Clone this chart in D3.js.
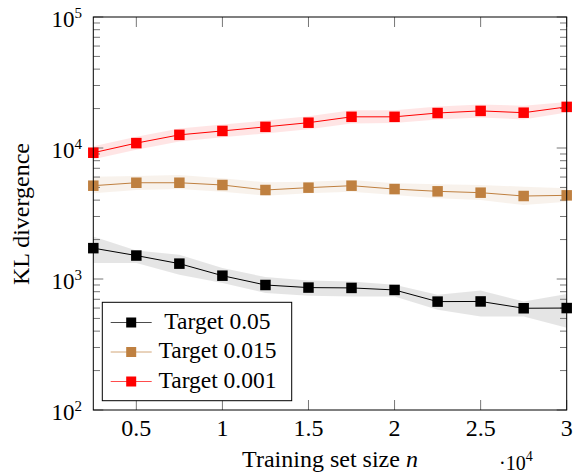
<!DOCTYPE html>
<html>
<head>
<meta charset="UTF-8">
<title>KL divergence</title>
<style>
  body { margin: 0; background: #fff; }
  text { font-family: "Liberation Serif", "Times New Roman", serif; fill: #000; }
</style>
</head>
<body>
<script src="https://cdn.jsdelivr.net/npm/d3@7/dist/d3.min.js"></script>
<script>
// training set sizes, in units of 10^4
var sizes = [0.25, 0.5, 0.75, 1, 1.25, 1.5, 1.75, 2, 2.25, 2.5, 2.75, 3];
var xTicks = [0.5, 1, 1.5, 2, 2.5, 3];

var names = ["Target 0.05", "Target 0.015", "Target 0.001"];
var colors = ["#000000", "#bf8040", "#ff0000"];

var kl005   = [1720, 1510, 1310, 1060, 900, 860, 855, 825, 672, 674, 598, 600];
var kl005Lo = [1325, 1325, 1078, 932, 782, 746, 736, 736, 583, 518, 518, 424];
var kl005Hi = [2114, 1653, 1533, 1213, 1035, 976, 959, 905, 758, 818, 674, 768];

var kl0015   = [5155, 5430, 5430, 5220, 4780, 4980, 5155, 4860, 4670, 4560, 4300, 4350];
var kl0015Lo = [4510, 4777, 4864, 4640, 4325, 4510, 4640, 4377, 4130, 4010, 3670, 3890];
var kl0015Hi = [6040, 6110, 6220, 5870, 5475, 5530, 5700, 5377, 5280, 5220, 5065, 4925];

var kl0001   = [9200, 10900, 12600, 13500, 14500, 15600, 17300, 17300, 18500, 19200, 18600, 20600];
var kl0001Lo = [8200, 9700, 11200, 12100, 12900, 13900, 15400, 15500, 16500, 17100, 16500, 18700];
var kl0001Hi = [10300, 12200, 14100, 15100, 16200, 17500, 19400, 19400, 20700, 21500, 21000, 22400];

var series = [
  { name: names[0], color: colors[0], mid: kl005, lo: kl005Lo, hi: kl005Hi },
  { name: names[1], color: colors[1], mid: kl0015, lo: kl0015Lo, hi: kl0015Hi },
  { name: names[2], color: colors[2], mid: kl0001, lo: kl0001Lo, hi: kl0001Hi }
];

var W = 576, H = 476;
var pLeft = 93.3, pRight = 566.7, pTop = 17, pBottom = 410;

var svg = d3.select('body').append('svg')
  .attr('width', W)
  .attr('height', H);

var x = d3.scaleLinear().domain([0.25, 3]).range([pLeft, pRight]);
var y = d3.scaleLog().domain([100, 100000]).range([pBottom, pTop]);

// bands
series.forEach(function(s) {
  var area = d3.area()
    .x(function(d, i) { return x(sizes[i]); })
    .y0(function(d, i) { return y(s.lo[i]); })
    .y1(function(d, i) { return y(s.hi[i]); });
  svg.append('path')
    .datum(s.mid)
    .attr('d', area)
    .attr('fill', s.color)
    .attr('fill-opacity', 0.1)
    .attr('stroke', 'none');
});

// y ticks (log, major + minor, both sides, inward)
var yTicks = y.ticks();
function isMajor(v) { return Math.abs(Math.log10(v) - Math.round(Math.log10(v))) < 1e-9; }
var tickG = svg.append('g').attr('stroke', '#777').attr('stroke-width', 1);
tickG.selectAll('.yl').data(yTicks).enter().append('line')
  .attr('x1', pLeft).attr('x2', function(d) { return pLeft + (isMajor(d) ? 10 : 6.7); })
  .attr('y1', function(d) { return y(d); }).attr('y2', function(d) { return y(d); });
tickG.selectAll('.yr').data(yTicks).enter().append('line')
  .attr('x1', pRight).attr('x2', function(d) { return pRight - (isMajor(d) ? 10 : 6.7); })
  .attr('y1', function(d) { return y(d); }).attr('y2', function(d) { return y(d); });
tickG.selectAll('.xb').data(xTicks).enter().append('line')
  .attr('x1', function(d) { return x(d); }).attr('x2', function(d) { return x(d); })
  .attr('y1', pBottom).attr('y2', pBottom - 10);
tickG.selectAll('.xt').data(xTicks).enter().append('line')
  .attr('x1', function(d) { return x(d); }).attr('x2', function(d) { return x(d); })
  .attr('y1', pTop).attr('y2', pTop + 10);

// lines and markers
series.forEach(function(s) {
  var line = d3.line()
    .x(function(d, i) { return x(sizes[i]); })
    .y(function(d) { return y(d); });
  svg.append('path')
    .datum(s.mid)
    .attr('d', line)
    .attr('fill', 'none')
    .attr('stroke', s.color)
    .attr('stroke-width', 1);
  svg.selectAll(null).data(s.mid).enter().append('rect')
    .attr('x', function(d, i) { return x(sizes[i]) - 5.25; })
    .attr('y', function(d) { return y(d) - 5.25; })
    .attr('width', 10.5)
    .attr('height', 10.5)
    .attr('fill', s.color);
});

// frame
svg.append('rect')
  .attr('x', pLeft).attr('y', pTop)
  .attr('width', pRight - pLeft).attr('height', pBottom - pTop)
  .attr('fill', 'none').attr('stroke', '#000').attr('stroke-width', 1);

// y tick labels 10^k
var yLabels = svg.selectAll('.ylab').data(yTicks.filter(isMajor)).enter().append('text')
  .attr('x', 82)
  .attr('y', function(d) { return y(d) + 10; })
  .attr('text-anchor', 'end')
  .style('font-size', '23px');
yLabels.append('tspan').text('10');
yLabels.append('tspan')
  .attr('dy', -9)
  .style('font-size', '15px')
  .text(function(d) { return Math.round(Math.log10(d)); });

// x tick labels
svg.selectAll('.xlab').data(xTicks).enter().append('text')
  .attr('x', function(d) { return x(d); })
  .attr('y', 436)
  .attr('text-anchor', 'middle')
  .style('font-size', '24px')
  .text(function(d) { return d; });

// x label and scale factor
var xl = svg.append('text')
  .attr('x', (pLeft + pRight) / 2)
  .attr('y', 467)
  .attr('text-anchor', 'middle')
  .style('font-size', '24px');
xl.append('tspan').text('Training set size ');
xl.append('tspan').style('font-style', 'italic').text('n');

var sf = svg.append('text')
  .attr('x', 499)
  .attr('y', 470)
  .style('font-size', '20px');
sf.append('tspan').text('\u00b710');
sf.append('tspan').attr('dy', -9).style('font-size', '14px').text('4');

// y label
svg.append('text')
  .attr('transform', 'translate(29,214) rotate(-90)')
  .attr('text-anchor', 'middle')
  .style('font-size', '24px')
  .text('KL divergence');

// legend
var lg = svg.append('g');
lg.append('rect')
  .attr('x', 102.3).attr('y', 302.3)
  .attr('width', 189.4).attr('height', 98.4)
  .attr('fill', '#fff').attr('stroke', '#000').attr('stroke-width', 1);
var rows = lg.selectAll('.row').data(series).enter().append('g')
  .attr('transform', function(d, i) { return 'translate(0,' + (328.5 + i * 29.5) + ')'; });
rows.append('line')
  .attr('x1', 110.7).attr('x2', 151.7)
  .attr('y1', -6).attr('y2', -6)
  .attr('stroke', function(d) { return d.color; })
  .attr('stroke-opacity', 0.7)
  .attr('stroke-width', 1);
rows.append('rect')
  .attr('x', 126.2).attr('y', -11)
  .attr('width', 10).attr('height', 10)
  .attr('fill', function(d) { return d.color; });
rows.append('text')
  .attr('x', 217.5).attr('y', 0)
  .attr('text-anchor', 'middle')
  .style('font-size', '23.5px')
  .text(function(d) { return d.name; });
</script>
</body>
</html>
